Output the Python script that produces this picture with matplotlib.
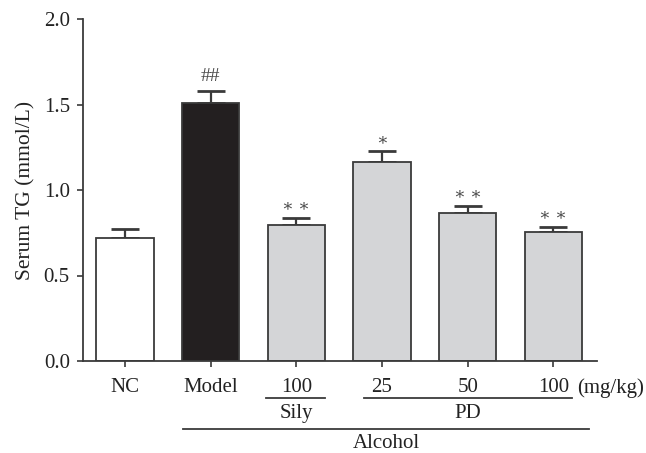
import matplotlib.pyplot as plt
import numpy as np

plt.rcParams["font.family"] = ["Liberation Serif", "DejaVu Serif"]

tick_labels = ["NC", "Model", "100", "25", "50", "100"]
means = [0.72, 1.51, 0.795, 1.164, 0.866, 0.754]
errors = [0.053, 0.07, 0.041, 0.064, 0.04, 0.03]
marks = ["", "##", "\u2217 \u2217", "\u2217", "\u2217 \u2217", "\u2217 \u2217"]
fills = ["white", "#231f20", "#d4d5d7", "#d4d5d7", "#d4d5d7", "#d4d5d7"]

edge = "#3a3a3a"
txt_col = "#222222"
fs = 15

fig = plt.figure(figsize=(6.46, 4.53), dpi=100)
ax = fig.add_axes([83 / 646, 92 / 453, 514 / 646, 342 / 453])

x = np.arange(len(means))
ax.bar(x, means, width=0.666, color=fills, edgecolor=edge, linewidth=1.3, zorder=2)
ax.errorbar(x, means, yerr=[np.zeros(len(errors)), errors], fmt="none",
            ecolor=edge, elinewidth=1.6, capsize=10.3, capthick=2, zorder=1)
for xi, m, e, s in zip(x, means, errors, marks):
    if s:
        big = s == "##"
        ax.annotate(s, xy=(xi, m + e), xytext=(0, 10 if big else 8),
                    textcoords="offset points", ha="center", va="center",
                    fontsize=14 if big else 12.5, color="#4a4a4a")

ax.set_xlim(-0.49, 5.51)
ax.set_ylim(0, 2.0)
ax.set_yticks([0, 0.5, 1.0, 1.5, 2.0])
ax.set_yticklabels(["0.0", "0.5", "1.0", "1.5", "2.0"])
ax.set_xticks(x)
ax.set_xticklabels(tick_labels)
ax.set_ylabel("Serum TG (mmol/L)", fontsize=15.5, color=txt_col)
ax.yaxis.set_label_coords(-0.093, 0.5)
ax.tick_params(axis="both", labelsize=fs, length=4.5, width=1.2, color=edge,
               labelcolor=txt_col)
ax.tick_params(axis="y", pad=5)
ax.tick_params(axis="x", pad=7.5)
for side in ["top", "right"]:
    ax.spines[side].set_visible(False)
for side in ["left", "bottom"]:
    ax.spines[side].set_color(edge)
    ax.spines[side].set_linewidth(1.3)

# group annotations below the axis
trans = ax.get_xaxis_transform()
ax.text(5.28, -0.094, "(mg/kg)", transform=trans, ha="left", va="baseline",
        fontsize=fs, color=txt_col)
groups = [("Sily", 1.65, 2.34, -0.108, -0.167),
          ("PD", 2.79, 5.22, -0.108, -0.167),
          ("Alcohol", 0.68, 5.42, -0.199, -0.255)]
for name, x0, x1, yl, yt in groups:
    ax.plot([x0, x1], [yl, yl], transform=trans, color=edge, lw=1.3,
            clip_on=False)
    ax.text((x0 + x1) / 2, yt, name, transform=trans, ha="center",
            va="baseline", fontsize=fs, color=txt_col)

fig.savefig("out.png", dpi=100)
